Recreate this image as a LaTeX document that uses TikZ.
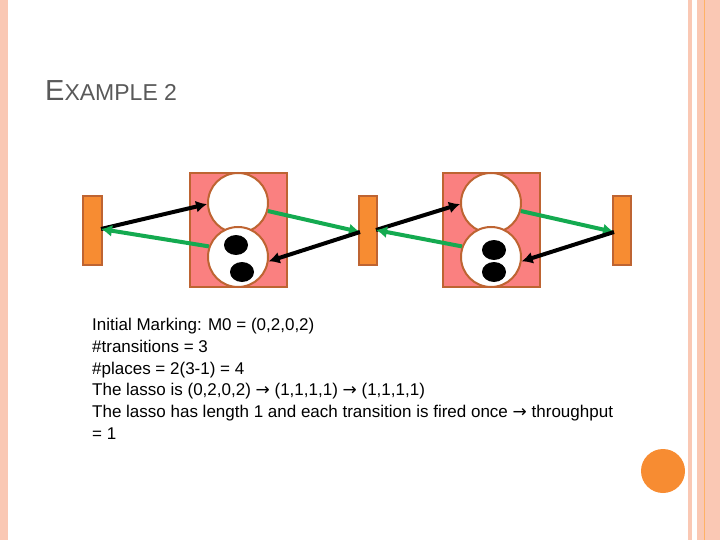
\documentclass[tikz,border=0pt]{standalone}
\usepackage{fontspec}
\usetikzlibrary{arrows.meta}
\setmainfont{Liberation Sans}
\newfontfamily\dv{DejaVu Sans}
\definecolor{edge}{RGB}{190,100,50}
\definecolor{torange}{RGB}{247,140,50}
\definecolor{pink}{RGB}{250,128,128}
\definecolor{gline}{RGB}{20,170,80}
\definecolor{stripe}{RGB}{250,200,180}
\begin{document}
\begin{tikzpicture}[x=1pt,y=-1pt,
  trans/.style={draw=edge,fill=torange,line width=2pt},
  pbox/.style={draw=edge,fill=pink,line width=2pt},
  place/.style={circle,draw=edge,fill=white,line width=2pt,minimum size=60pt,inner sep=0pt},
  tok/.style={fill=black},
  blk/.style={draw=black,line width=4pt,-{Latex[length=11pt,width=12pt]}},
  grn/.style={draw=gline,line width=4pt,-{Latex[length=11pt,width=12pt]}},
  txt/.style={anchor=base west,font=\fontsize{17}{20}\selectfont,inner sep=0pt}]
\useasboundingbox (0,0) rectangle (720,540);
\fill[stripe] (0,0) rectangle (8,540);
\fill[stripe] (688,0) rectangle (692,540);
\fill[stripe] (697,0) rectangle (720,540);
\draw[orange!60!white,line width=0.8pt] (704,0) -- (704,540);
\fill[torange] (663,471) circle (22);
\node[anchor=base west,inner sep=0pt,text=gray!70!black] (title) at (45,101)
  {\fontsize{29}{32}\selectfont E\fontsize{23}{26}\selectfont XAMPLE 2};
\draw[pbox] (190,173) rectangle (287,287);
\draw[pbox] (443,173) rectangle (540,287);
\node[trans,minimum width=19pt,minimum height=69pt,inner sep=0pt] (t1) at (92.5,230.5) {};
\node[trans,minimum width=18pt,minimum height=69pt,inner sep=0pt] (t2) at (368,230.5) {};
\node[trans,minimum width=18pt,minimum height=69pt,inner sep=0pt] (t3) at (622,230.5) {};
\node[place] (p1) at (238,203) {};
\node[place] (p2) at (238,257) {};
\node[place] (p3) at (491,203) {};
\node[place] (p4) at (491,257) {};
\fill[tok] (236,245) ellipse (12 and 10);
\fill[tok] (242,272) ellipse (12 and 10);
\fill[tok] (494,250) ellipse (12 and 10);
\fill[tok] (494,272) ellipse (12 and 10);
\coordinate (a1) at (101,229);
\coordinate (a2) at (360,232);
\coordinate (a3) at (376,230);
\coordinate (a4) at (614,232);
\draw[blk] (a1) -- (p1.182);
\draw[grn] (p2.160) -- (a1);
\draw[grn] (p1.-15) -- (a2);
\draw[blk] (a2) -- (p2.-8);
\draw[blk] (a3) -- (p3.182);
\draw[grn] (p4.160) -- (a3);
\draw[grn] (p3.-15) -- (a4);
\draw[blk] (a4) -- (p4.-8);
\node[txt] (l1) at (92,330) {Initial Marking: M0 = (0,2,0,2)};
\node[txt] (l2) at (92,352) {\#transitions = 3};
\node[txt] (l3) at (92,374) {\#places = 2(3-1) = 4};
\node[txt] (l4) at (92,395) {The lasso is (0,2,0,2) {\dv→} (1,1,1,1) {\dv→} (1,1,1,1)};
\node[txt] (l5) at (92,417) {The lasso has length 1 and each transition is fired once {\dv→} throughput};
\node[txt] (l6) at (92,439) {= 1};
\end{tikzpicture}
\end{document}
